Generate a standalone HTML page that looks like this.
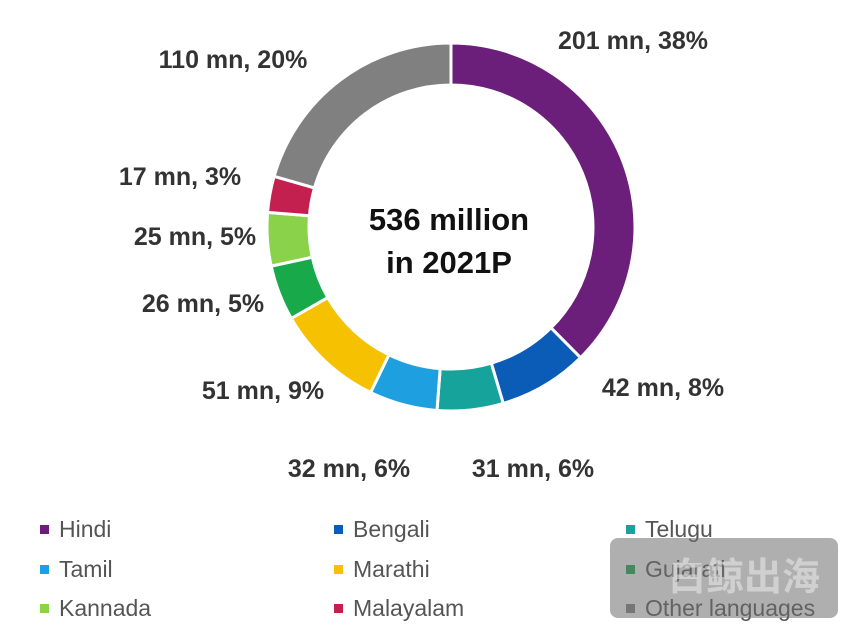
<!DOCTYPE html>
<html><head><meta charset="utf-8"><style>
body{margin:0;width:847px;height:628px;background:#fff;overflow:hidden;position:relative;font-family:"Liberation Sans","Noto Sans CJK SC",sans-serif}
svg{position:absolute;left:0;top:0}
</style></head><body>
<svg id="chart" width="847" height="628"></svg>
<div style="position:absolute;left:610px;top:538px;width:228px;height:80px;border-radius:8px;background:rgba(110,110,110,0.55);color:rgba(235,235,235,0.55);font-size:38px;font-weight:bold;line-height:80px;text-align:right;padding-right:18px;box-sizing:border-box">白鲸出海</div>
<script>
const categories=["Hindi","Bengali","Telugu","Tamil","Marathi","Gujarati","Kannada","Malayalam","Other languages"];
const values=[201,42,31,32,51,26,25,17,110];
const pctLabels=["38%","8%","6%","6%","9%","5%","5%","3%","20%"];
const colors=["#6b1f7b","#0b5cb6","#16a39b","#1e9fe0","#f6c100","#17a94a","#8bd24b","#c4204f","#808080"];
const svg=document.getElementById('chart');const NS="http://www.w3.org/2000/svg";
const cx=451,cy=227,R=184,r=142;
const total=values.reduce((a,b)=>a+b,0);
function pt(a,rad){return [cx+rad*Math.sin(a),cy-rad*Math.cos(a)];}
let acc=0;
values.forEach((v,i)=>{
 const a0=acc/total*2*Math.PI,a1=(acc+v)/total*2*Math.PI;acc+=v;
 const big=a1-a0>Math.PI?1:0;
 const p0=pt(a0,R),p1=pt(a1,R),q1=pt(a1,r),q0=pt(a0,r);
 const p=document.createElementNS(NS,'path');
 p.setAttribute('d',`M${p0}L${p0}A${R},${R} 0 ${big} 1 ${p1}L${q1}A${r},${r} 0 ${big} 0 ${q0}Z`);
 p.setAttribute('fill',colors[i]);p.setAttribute('stroke','#fff');p.setAttribute('stroke-width','3');
 
 
 svg.appendChild(p);
});
const labelPos=[[633,40],[663,387],[533,468],[349,468],[263,390],[203,303],[195,236],[180,176],[233,59]];
values.forEach((v,i)=>{
 const t=document.createElementNS(NS,'text');
 t.setAttribute('x',labelPos[i][0]);t.setAttribute('y',labelPos[i][1]+9);
 t.setAttribute('text-anchor','middle');t.setAttribute('font-size','25');t.setAttribute('font-weight','bold');t.setAttribute('fill','#333');
 t.textContent=v+' mn, '+pctLabels[i];
 
 
 svg.appendChild(t);
});
[["536 million",230],["in 2021P",273]].forEach(([s,y])=>{
 const t=document.createElementNS(NS,'text');
 t.setAttribute('x',449);t.setAttribute('y',y);t.setAttribute('text-anchor','middle');t.setAttribute('font-size','31');t.setAttribute('font-weight','bold');t.setAttribute('fill','#111');
 t.textContent=s;
 
 
 svg.appendChild(t);
});
const colX=[40,334,626],rowY=[529,569,608];
categories.forEach((c,i)=>{
 const x=colX[i%3],y=rowY[Math.floor(i/3)];
 const g=document.createElementNS(NS,'g');
 
 
 const s=document.createElementNS(NS,'rect');s.setAttribute('x',x);s.setAttribute('y',y-4);s.setAttribute('width',9);s.setAttribute('height',9);s.setAttribute('fill',colors[i]);
 const t=document.createElementNS(NS,'text');t.setAttribute('x',x+19);t.setAttribute('y',y+8);t.setAttribute('font-size','23');t.setAttribute('fill','#555');t.textContent=c;
 g.appendChild(s);g.appendChild(t);svg.appendChild(g);
});
</script>
</body></html>
